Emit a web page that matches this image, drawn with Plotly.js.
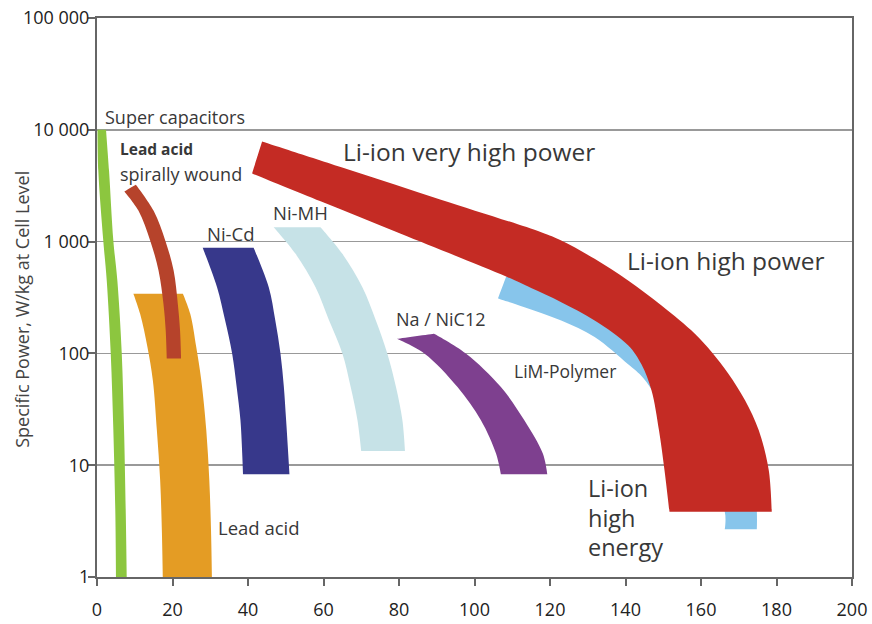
<!DOCTYPE html>
<html>
<head>
<meta charset="utf-8">
<script src="https://cdn.plot.ly/plotly-3.0.1.min.js"></script>
<style>html,body{margin:0;padding:0;background:#fff;}#chart{width:872px;height:624px;}</style>
</head>
<body>
<div id="chart"></div>
<script>
// ---- Data (x: Wh/kg, y: W/kg) ----
// Super capacitors band
const superCapY      = [10000, 4300, 1020, 449, 100, 20.5, 3.7, 1];
const superCapLeftX  = [0.13, 0.35, 1.67, 2.58, 3.64, 4.33, 4.86, 5.05];
const superCapRightX = [2.39, 3.19, 4.33, 5.39, 6.56, 7.17, 7.62, 7.89];

// Lead acid spirally wound band
const spiralLeftX  = [7.25, 11.0, 14.1, 16.3, 17.6, 18.2, 18.5];
const spiralLeftY  = [2813, 1890, 1020, 551, 278, 160, 90];
const spiralRightX = [10.3, 15.0, 18.1, 20.3, 21.4, 22.0, 22.3];
const spiralRightY = [3230, 1890, 1020, 551, 278, 160, 90];

// Lead acid band
const leadY      = [341, 226, 114, 57.4, 20.5, 7.35, 2.63, 1];
const leadLeftX  = [9.64, 11.42, 13.36, 14.79, 15.86, 16.73, 17.18, 17.45];
const leadRightX = [22.76, 24.70, 26.29, 27.62, 28.95, 29.75, 30.20, 30.46];

// Ni-Cd band
const niCdY      = [879, 391, 200, 100, 50, 25.2, 8.3];
const niCdLeftX  = [28.0, 31.8, 33.9, 35.8, 37.0, 38.0, 38.7];
const niCdRightX = [41.5, 45.5, 47.2, 48.6, 49.5, 50.1, 51.0];

// Ni-MH band
const niMhY      = [1342, 777, 391, 200, 100, 50, 25.2, 13.4];
const niMhLeftX  = [46.8, 52.6, 57.9, 61.4, 65.0, 67.2, 69.0, 70.0];
const niMhRightX = [59.2, 65.0, 70.3, 73.8, 76.9, 79.2, 80.9, 81.6];

// Na / NiCl2 band
const naLowerX = [79.4, 86.7, 95.5, 101.7, 105.7, 107.0];
const naLowerY = [135, 100, 50, 25.2, 12.7, 8.3];
const naUpperX = [89.3, 97.7, 107.0, 113.2, 118.1, 119.3];
const naUpperY = [150, 100, 50, 25.2, 12.7, 8.3];

// LiM-Polymer band (partly behind Li-ion)
const limLowerX = [106.24, 113.23, 122.97, 131.82, 140.69, 144.75, 152, 160, 166.3, 166.3];
const limLowerY = [310, 259, 197, 140, 79.8, 59.8, 25, 10, 3.83, 2.67];
const limUpperX = [108.4, 115, 130, 145, 160, 170, 174, 174.8, 174.8];
const limUpperY = [487, 480, 400, 250, 100, 30, 9, 3.83, 2.67];

// Li-ion band (very high power -> high power -> high energy)
const liOuterX = [43.74, 67.20, 91.10, 117.66, 122.97, 131.82, 140.69, 149.54, 158.38, 162.81, 167.25, 171.66, 175.30, 177.95, 178.75];
const liOuterY = [7864, 4349, 2371, 1211, 1021, 701, 449, 268, 150, 103, 65.9, 38.1, 20.5, 9.03, 3.83];
const liInnerX = [41.09, 59.23, 80.48, 108.37, 115.01, 122.97, 131.82, 140.69, 144.22, 146.88, 148.87, 150.33, 151.66];
const liInnerY = [4072, 2295, 1174, 487, 384, 287, 197, 118, 79.8, 46.7, 20.5, 9.03, 3.83];

// Axis ticks
const xTicks = [0, 20, 40, 60, 80, 100, 120, 140, 160, 180, 200];
const yTicks = [1, 10, 100, 1000, 10000, 100000];
const yTickText = ["1", "10", "100", "1 000", "10 000", "100 000"];

// ---- Build closed band outlines (edge a, then edge b reversed) ----
// End points of each edge are repeated so the spline keeps sharp corners.
function band(ax, ay, bx, by) {
  const rbx = bx.slice().reverse(), rby = by.slice().reverse();
  const la = ax.length - 1, lb = rbx.length - 1;
  return {
    x: [ax[0]].concat(ax, [ax[la], rbx[0]], rbx, [rbx[lb], ax[0]]),
    y: [ay[0]].concat(ay, [ay[la], rby[0]], rby, [rby[lb], ay[0]])
  };
}
function trace(poly, color, name) {
  return {
    type: 'scatter', mode: 'lines', name: name,
    x: poly.x, y: poly.y,
    fill: 'toself', fillcolor: color,
    line: {width: 0, color: color, shape: 'spline', smoothing: 1, simplify: false},
    hoverinfo: 'skip', showlegend: false
  };
}

const traces = [
  trace(band(superCapLeftX, superCapY, superCapRightX, superCapY), '#8cc63f', 'Super capacitors'),
  trace(band(leadLeftX, leadY, leadRightX, leadY), '#e49c24', 'Lead acid'),
  trace(band(spiralLeftX, spiralLeftY, spiralRightX, spiralRightY), '#b6432b', 'Lead acid spirally wound'),
  trace(band(niCdLeftX, niCdY, niCdRightX, niCdY), '#37388b', 'Ni-Cd'),
  trace(band(niMhLeftX, niMhY, niMhRightX, niMhY), '#c6e2e7', 'Ni-MH'),
  trace(band(naLowerX, naLowerY, naUpperX, naUpperY), '#7e408f', 'Na / NiCl2'),
  trace(band(limLowerX, limLowerY, limUpperX, limUpperY), '#87c5eb', 'LiM-Polymer'),
  trace(band(liOuterX, liOuterY, liInnerX, liInnerY), '#c42b24', 'Li-ion')
];

const txt = '#383838';
const lg = Math.log10;
function label(text, x, yVal, size) {
  return {
    text: text, xref: 'x', yref: 'y', x: x, y: lg(yVal),
    xanchor: 'left', yanchor: 'middle', align: 'left', showarrow: false, borderpad: 0,
    font: {family: 'Open Sans, sans-serif', size: size, color: txt}
  };
}

const annotations = [
  label('Super capacitors', 1.9, 13060, 18),
  label('<b>Lead acid</b>', 5.9, 6750, 15.5),
  label('spirally wound', 5.9, 4060, 18),
  label('Ni-Cd', 29.0, 1178, 18.5),
  label('Ni-MH', 46.3, 1816, 18.5),
  label('Na / NiC12', 78.9, 205, 18),
  label('LiM-Polymer', 110.3, 69, 17.5),
  label('Li-ion very high power', 64.9, 6370, 24.5),
  label('Li-ion high power', 140.0, 676, 24.5),
  label('Li-ion', 129.9, 6.24, 23.5),
  label('high', 129.9, 3.37, 23.5),
  label('energy', 129.9, 1.85, 23.5),
  label('Lead acid', 31.9, 2.8, 18.5),
  {
    text: 'Specific Power, W/kg at Cell Level', xref: 'paper', yref: 'paper',
    x: -0.0993, y: 0.478, xanchor: 'center', yanchor: 'middle', textangle: -90,
    showarrow: false, font: {family: 'Open Sans, sans-serif', size: 18, color: '#444'}
  }
];

const layout = {
  width: 872, height: 624,
  margin: {l: 97, r: 20, t: 18, b: 47},
  paper_bgcolor: '#ffffff', plot_bgcolor: '#ffffff',
  showlegend: false,
  font: {family: 'Open Sans, sans-serif', color: '#222'},
  xaxis: {
    range: [0, 200], tickvals: xTicks, ticktext: xTicks.map(String),
    ticks: 'outside', ticklen: 7, tickwidth: 2, tickcolor: '#666',
    showline: true, linecolor: '#666', linewidth: 2, mirror: true,
    showgrid: false, zeroline: false, ticklabelstandoff: 8,
    tickfont: {family: 'Open Sans, sans-serif', size: 18, color: '#222'}
  },
  yaxis: {
    type: 'log', range: [0, 5], tickvals: yTicks, ticktext: yTickText,
    ticks: 'outside', ticklen: 7, tickwidth: 2, tickcolor: '#666',
    showline: true, linecolor: '#666', linewidth: 2, mirror: true,
    showgrid: true, gridcolor: '#999', gridwidth: 1.5, zeroline: false,
    ticklabelstandoff: -5,
    tickfont: {family: 'Open Sans, sans-serif', size: 18, color: '#222'}
  },
  annotations: annotations
};

Plotly.newPlot('chart', traces, layout, {staticPlot: true, displayModeBar: false});
</script>
</body>
</html>
